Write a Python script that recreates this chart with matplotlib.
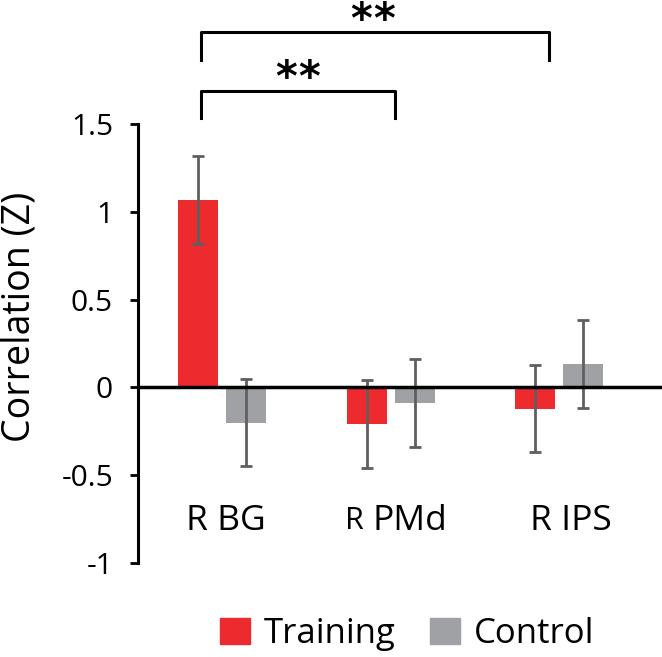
import matplotlib
matplotlib.use('Agg')
import matplotlib.pyplot as plt
from matplotlib.patches import Patch
import numpy as np

# Data
regions = ['R BG', 'R PMd', 'R IPS']
training = [1.07, -0.21, -0.12]
control = [-0.20, -0.09, 0.135]
training_err = [0.25, 0.25, 0.25]
control_err = [0.25, 0.25, 0.25]
yticks = [-1, -0.5, 0, 0.5, 1, 1.5]
ytick_labels = ['-1', '-0.5', '0', '0.5', '1', '1.5']

red = '#ED2A2E'
gray = '#A0A1A4'
err_col = '#5F5F5F'

plt.rcParams['font.family'] = ['Open Sans', 'DejaVu Sans']

fig = plt.figure(figsize=(6.62, 6.57), dpi=100)
ax = fig.add_axes([0.2085, 0.143, 0.7915, 0.668])

x = np.arange(len(regions))
off = 0.1424
w = 0.237

ax.bar(x - off, training, w, color=red, zorder=2)
ax.bar(x + off, control, w, color=gray, zorder=2)
ax.errorbar(x - off, training, yerr=training_err, fmt='none', ecolor=err_col,
            elinewidth=2, capsize=4.5, capthick=2, zorder=3)
ax.errorbar(x + off, control, yerr=control_err, fmt='none', ecolor=err_col,
            elinewidth=2, capsize=4.5, capthick=2, zorder=3)

ax.axhline(0, color='black', lw=2.5, zorder=4)

ax.set_xlim(-0.5, 2.61)
ax.set_ylim(-1, 1.5)
ax.set_yticks(yticks)
ax.set_yticklabels(ytick_labels)
ax.set_xticks([])
for s in ['top', 'right', 'bottom']:
    ax.spines[s].set_visible(False)
ax.spines['left'].set_linewidth(2.2)
ax.tick_params(axis='y', length=6, width=2, labelsize=21.5, pad=12)

fig.text(0.03, 0.517, 'Correlation (Z)', rotation=90, ha='center', va='center',
         fontsize=27)

# category labels (the "R" of PMd is set smaller in the original)
lab_y = -0.76
ax.text(0.024, lab_y, 'R BG', ha='center', va='center', fontsize=25.5)
ax.text(0.838, lab_y, 'R', ha='right', va='center', fontsize=22)
ax.text(0.89, lab_y, 'PMd', ha='left', va='center', fontsize=25.5)
ax.text(2.07, lab_y, 'R IPS', ha='center', va='center', fontsize=25.5)

# significance brackets
def bracket(x0, x1, ytop, ybot, stars_x, stars_y, va):
    ax.plot([x0, x0, x1, x1], [ybot, ytop, ytop, ybot], color='black', lw=2.2,
            clip_on=False, solid_joinstyle='round')
    for dx in (-0.068, 0.068):
        ax.text(stars_x + dx, stars_y, '*', ha='center', va=va, fontsize=30,
                fontweight='bold', family='DejaVu Sans', clip_on=False)

bracket(-0.125, 1.94, 2.023, 1.863, 0.89, 2.205, 'top')
bracket(-0.125, 1.027, 1.69, 1.537, 0.445, 1.76, 'center')

handles = [Patch(color=red, label='Training'), Patch(color=gray, label='Control')]
fig.legend(handles=handles, loc='center', bbox_to_anchor=(0.615, 0.035), ncol=2,
           frameon=False, fontsize=25, handlelength=0.85, handleheight=0.8,
           handletextpad=0.4, columnspacing=1.0)

fig.savefig('out.png', dpi=100)
